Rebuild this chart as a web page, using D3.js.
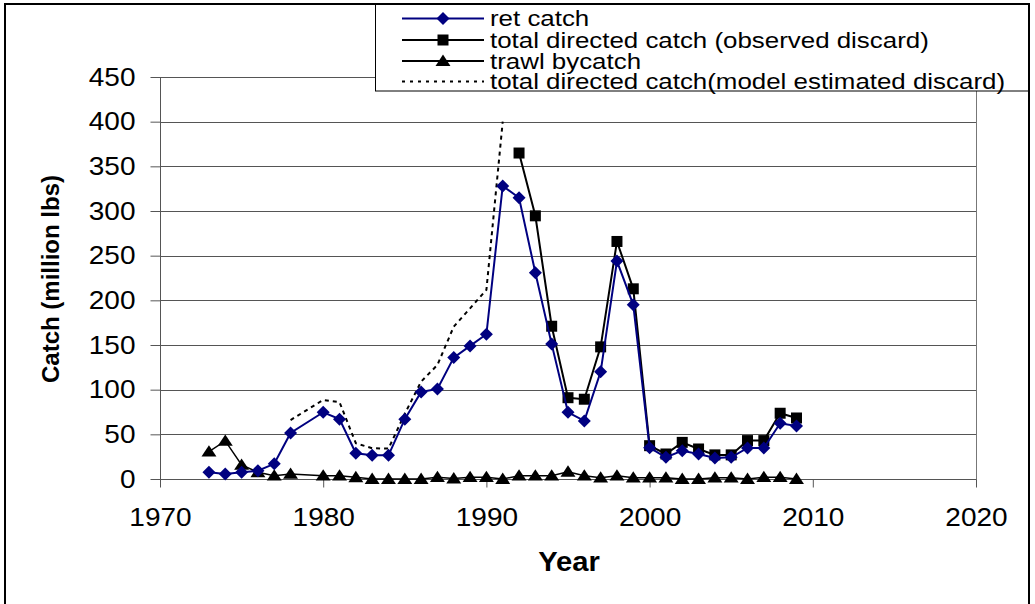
<!DOCTYPE html>
<html><head><meta charset="utf-8">
<script src="https://cdn.jsdelivr.net/npm/d3@7"></script>
<style>
html,body{margin:0;padding:0;background:#fff;}
svg{display:block;font-family:"Liberation Sans",Arial,sans-serif;}
</style></head>
<body>
<svg id="chart" width="1035" height="604"></svg>
<script>
// ---- data ----
const retYears = [1973,1974,1975,1976,1977,1978,1980,1981,1982,1983,1984,1985,1986,1987,1988,1989,1990,1991,1992,1993,1994,1995,1996,1997,1998,1999,2000,2001,2002,2003,2004,2005,2006,2007,2008,2009];
const retCatch = [7.5,5.6,7.5,9.3,17,51.5,74.7,67,28.8,26.5,26.5,67,97.5,100.8,135.9,149,162,328,314.8,230.8,151,74.7,65,120,244,195,35,24.3,31.7,28,23.5,24.3,34.7,34.7,62.4,59.4];
const obsYears = [1992,1993,1994,1995,1996,1997,1998,1999,2000,2001,2002,2003,2004,2005,2006,2007,2008,2009];
const obsCatch = [364.9,294.6,171,91,89.3,147.9,265.9,212.9,37.3,28,41,33.6,27,27,43,43,73.6,68.3];
const trawlYears = retYears;
const trawlBycatch = [30.6,42.6,15.7,7.5,3.7,5.6,3.7,3.7,1.9,0,0,0,0,2,0.5,2,2,0,3.7,3.7,3.7,8,3.7,1.5,3.7,1.5,1.5,1.5,0,0,1.5,1.5,0,2,2,0];
const modelYears = [1978,1980,1981,1982,1983,1984,1985,1986,1987,1988,1989,1990,1991];
const modelCatch = [66,88.5,86,40,34.4,34,73,109,127.7,170.6,191,211.7,400];
const xTicks = [1970,1980,1990,2000,2010,2020];
const yTicks = [0,50,100,150,200,250,300,350,400,450];
const legendLabels = ["ret catch","total directed catch (observed discard)","trawl bycatch","total directed catch(model estimated discard)"];
const xTitle = "Year";
const yTitle = "Catch (million lbs)";

// ---- layout ----
const svg = d3.select("#chart");
const x = d3.scaleLinear().domain([1970,2020]).range([160,976]);
const y = d3.scaleLinear().domain([0,450]).range([479,77]);
const NAVY = "#000080";
const SX = 1.12; // horizontal stretch of the original picture's text

// outer frame
svg.append("rect").attr("x",5).attr("y",4).attr("width",1024).attr("height",640)
  .attr("fill","#fff").attr("stroke","#000").attr("stroke-width",2);

// gridlines
svg.append("g").selectAll("line").data(yTicks.filter(d=>d>0)).join("line")
  .attr("x1",160).attr("x2",976).attr("y1",d=>Math.round(y(d))+0.5).attr("y2",d=>Math.round(y(d))+0.5)
  .attr("stroke","#555").attr("stroke-width",1);
// right plot border
svg.append("line").attr("x1",976.5).attr("x2",976.5).attr("y1",77).attr("y2",487)
  .attr("stroke","#777").attr("stroke-width",1);

// y axis
const yAxis = d3.axisLeft(y).tickValues(yTicks).tickSize(10).tickPadding(15).tickFormat(d3.format("d"));
const gy = svg.append("g").attr("transform","translate(160.5,0)").call(yAxis);
gy.select(".domain").attr("d","M0,77V487").attr("stroke","#555");
gy.selectAll(".tick line").attr("stroke","#555");
gy.selectAll(".tick text").attr("font-size",25).attr("fill","#000")
  .attr("font-family","Liberation Sans, Arial, sans-serif")
  .attr("x",0).attr("transform",`translate(-25,0) scale(${SX},1)`);

// x axis
const xAxis = d3.axisBottom(x).tickValues(xTicks).tickSize(8).tickPadding(14).tickFormat(d3.format("d"));
const gx = svg.append("g").attr("transform","translate(0,479.5)").call(xAxis);
gx.select(".domain").attr("d","M160,0H976").attr("stroke","#555");
gx.selectAll(".tick line").attr("stroke","#555");
gx.selectAll(".tick text").attr("font-size",25).attr("fill","#000")
  .attr("font-family","Liberation Sans, Arial, sans-serif")
  .attr("y",0).attr("dy",null).attr("transform",`translate(0,46.5) scale(${SX},1)`);

// titles
svg.append("text").attr("transform",`translate(569,571) scale(1.08,1)`).attr("text-anchor","middle")
  .attr("font-size",27).attr("font-weight","bold").text(xTitle);
svg.append("text").attr("transform","translate(59,279) rotate(-90)").attr("text-anchor","middle")
  .attr("font-size",24).attr("font-weight","bold").text(yTitle);

// ---- series ----
const line = d3.line().x(d=>x(d[0])).y(d=>y(d[1]));
const zip = (a,b)=>a.map((v,i)=>[v,b[i]]);
const retData = zip(retYears,retCatch);
const obsData = zip(obsYears,obsCatch);
const trawlData = zip(trawlYears,trawlBycatch);
const modelData = zip(modelYears,modelCatch);

const diamond = s => `M0,${-s}L${s},0L0,${s}L${-s},0Z`;
const square = s => `M${-s},${-s}H${s}V${s}H${-s}Z`;
const triangle = s => `M0,${-s}L${s*1.15},${s*0.75}L${-s*1.15},${s*0.75}Z`;

// model estimated dotted
svg.append("path").datum(modelData).attr("d",line).attr("fill","none")
  .attr("stroke","#000").attr("stroke-width",2).attr("stroke-dasharray","4,4");

// trawl
svg.append("path").datum(trawlData).attr("d",line).attr("fill","none").attr("stroke","#000").attr("stroke-width",1.5);
svg.append("g").selectAll("path").data(trawlData).join("path")
  .attr("transform",d=>`translate(${x(d[0])},${y(d[1])})`).attr("d",triangle(6.5)).attr("fill","#000");

// observed
svg.append("path").datum(obsData).attr("d",line).attr("fill","none").attr("stroke","#000").attr("stroke-width",2);
svg.append("g").selectAll("path").data(obsData).join("path")
  .attr("transform",d=>`translate(${x(d[0])},${y(d[1])})`).attr("d",square(5.5)).attr("fill","#000");

// ret catch
svg.append("path").datum(retData).attr("d",line).attr("fill","none").attr("stroke",NAVY).attr("stroke-width",2);
svg.append("g").selectAll("path").data(retData).join("path")
  .attr("transform",d=>`translate(${x(d[0])},${y(d[1])})`).attr("d",diamond(6.5)).attr("fill",NAVY);

// ---- legend ----
const lg = svg.append("g");
lg.append("rect").attr("x",375.5).attr("y",4.5).attr("width",653).attr("height",86.5)
  .attr("fill","#fff").attr("stroke","#000").attr("stroke-width",1);
const rowsY = [18.5,40,61,81.5];
const styles = [
  {stroke:NAVY, dash:null, marker:diamond(6.5), fill:NAVY},
  {stroke:"#000", dash:null, marker:square(5.5), fill:"#000"},
  {stroke:"#000", dash:null, marker:triangle(6.5), fill:"#000"},
  {stroke:"#000", dash:"3,5", marker:null, fill:null}
];
legendLabels.forEach((lab,i)=>{
  const st = styles[i];
  const ly = rowsY[i];
  lg.append("line").attr("x1",402).attr("x2",484).attr("y1",ly).attr("y2",ly)
    .attr("stroke",st.stroke).attr("stroke-width",2).attr("stroke-dasharray",st.dash);
  if (st.marker) lg.append("path").attr("transform",`translate(443,${ly})`).attr("d",st.marker).attr("fill",st.fill);
  lg.append("text").attr("transform",`translate(490,${ly+7.5}) scale(1.177,1)`)
    .attr("font-size",22).attr("fill","#000").text(lab);
});
</script>
</body></html>
